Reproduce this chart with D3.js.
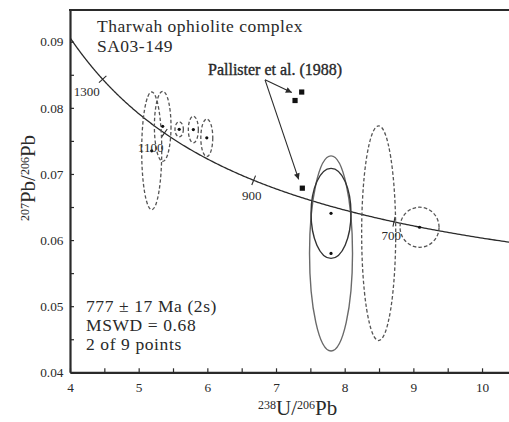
<!DOCTYPE html>
<html><head><meta charset="utf-8">
<script src="https://cdn.jsdelivr.net/npm/d3@7"></script>
<style>body{margin:0;background:#fff}svg{display:block}text{font-family:"Liberation Serif","Times New Roman",serif;fill:#2a2a2a}</style>
</head><body>
<svg id="c" width="509" height="422"></svg>
<script>
// ---------- data ----------
const xTicks=[4,5,6,7,8,9,10];
const xMinor=[4.5,5.5,6.5,7.5,8.5,9.5];
const yTicks=[0.04,0.05,0.06,0.07,0.08,0.09];
const yMinor=[0.045,0.055,0.065,0.075,0.085];
// excluded analyses (dashed ellipses): centre and half-axes
const excludedX=[5.19,5.35,5.59,5.796,5.992,8.495,9.09];
const excludedY=[0.0735,0.0772,0.07675,0.07672,0.07547,0.06104,0.06194];
const excludedEx=[0.146,0.121,0.061,0.073,0.087,0.248,0.284];
const excludedEy=[0.0089,0.0053,0.00114,0.00201,0.00283,0.01624,0.00303];
const excludedDot=[1,1,1,1,1,0,1];
// included analyses (solid ellipses)
const includedX=[7.801,7.801];
const includedY=[0.05798,0.06404];
const includedEx=[0.313,0.291];
const includedEy=[0.01476,0.00681];
// Pallister et al. (1988)
const pallisterX=[7.374,7.277,7.383];
const pallisterY=[0.08239,0.08111,0.06785];
const pallisterLabel="Pallister et al. (1988)";
const arrowFrom=[6.84,0.08424];
const arrowToX=[7.23,7.33];
const arrowToY=[0.08232,0.06918];
// concordia age marks (Ma)
const concordiaAges=[1300,1100,900,700];
const titleLines=["Tharwah ophiolite complex","SA03-149"];
const statLines=["777 ± 17 Ma (2s)","MSWD = 0.68","2 of 9 points"];

// ---------- drawing ----------
const svg=d3.select("#c");
const L=70,R=515,T=10,B=372.3;
const x=d3.scaleLinear().domain([4,10.48]).range([L,R]);
const y=d3.scaleLinear().domain([0.04,0.0948]).range([B,T]);
const ink="#2a2a2a";

svg.append("defs").append("clipPath").attr("id","clip")
  .append("rect").attr("x",L).attr("y",T).attr("width",R-L).attr("height",B-T);
const mk=svg.select("defs").append("marker").attr("id","ah")
  .attr("viewBox","0 0 10 10").attr("refX",10).attr("refY",5)
  .attr("markerWidth",8).attr("markerHeight",6).attr("markerUnits","userSpaceOnUse")
  .attr("orient","auto");
mk.append("path").attr("d","M0,0L10,5L0,10Z").attr("fill",ink);

// concordia (Tera-Wasserburg) from standard decay constants
const L238=1.55125e-10,L235=9.8485e-10,U85=137.88;
function tw(tMa){const t=tMa*1e6;const e8=Math.exp(L238*t)-1,e5=Math.exp(L235*t)-1;return [1/e8,e5/e8/U85];}
const ages=d3.range(540,1500,2);
const plot=svg.append("g").attr("clip-path","url(#clip)");
plot.append("path").datum(ages.map(tw))
  .attr("d",d3.line().x(d=>x(d[0])).y(d=>y(d[1])))
  .attr("fill","none").attr("stroke",ink).attr("stroke-width",1.3);

// age ticks on concordia
const lblOff={1300:[-3,17,"end"],1100:[-1,18.5,"end"],900:[-2,19.5,"middle"],700:[7,18,"end"]};
concordiaAges.forEach(a=>{
  const p=tw(a),p1=tw(a-5),p2=tw(a+5);
  const px=x(p[0]),py=y(p[1]);
  let dx=x(p2[0])-x(p1[0]),dy=y(p2[1])-y(p1[1]);const n=Math.hypot(dx,dy);dx/=n;dy/=n;
  plot.append("line").attr("x1",px-dy*5).attr("y1",py+dx*5).attr("x2",px+dy*5).attr("y2",py-dx*5)
    .attr("stroke",ink).attr("stroke-width",1.1);
  const o=lblOff[a];
  svg.append("text").attr("x",px+o[0]).attr("y",py+o[1]).attr("text-anchor",o[2])
    .attr("font-size",13).attr("fill","#444").text(a);
});

// ellipses
const ex=excludedX.map((v,i)=>({x:v,y:excludedY[i],ex:excludedEx[i],ey:excludedEy[i],dot:excludedDot[i]}));
const inc=includedX.map((v,i)=>({x:v,y:includedY[i],ex:includedEx[i],ey:includedEy[i],dot:1}));
plot.selectAll(".exe").data(ex).join("ellipse")
  .attr("cx",d=>x(d.x)).attr("cy",d=>y(d.y))
  .attr("rx",d=>x(d.x+d.ex)-x(d.x)).attr("ry",d=>y(d.y)-y(d.y+d.ey))
  .attr("fill","none").attr("stroke","#555").attr("stroke-width",1.3).attr("stroke-dasharray","3.5,2.2");
const incCol=["#6a6a6a","#333"];
plot.selectAll(".ine").data(inc).join("ellipse")
  .attr("cx",d=>x(d.x)).attr("cy",d=>y(d.y))
  .attr("rx",d=>x(d.x+d.ex)-x(d.x)).attr("ry",d=>y(d.y)-y(d.y+d.ey))
  .attr("fill","none").attr("stroke",(d,i)=>incCol[i]).attr("stroke-width",1.4);
plot.selectAll(".dot").data(ex.concat(inc).filter(d=>d.dot)).join("circle")
  .attr("cx",d=>x(d.x)).attr("cy",d=>y(d.y)).attr("r",1.6).attr("fill","#111");

// Pallister squares
plot.selectAll(".sq").data(pallisterX.map((v,i)=>[v,pallisterY[i]])).join("rect")
  .attr("x",d=>x(d[0])-2.6).attr("y",d=>y(d[1])-2.6).attr("width",5.2).attr("height",5.2).attr("fill","#111");
arrowToX.forEach((v,i)=>{
  svg.append("line").attr("x1",x(arrowFrom[0])).attr("y1",y(arrowFrom[1]))
    .attr("x2",x(v)).attr("y2",y(arrowToY[i])).attr("stroke",ink).attr("stroke-width",1.1)
    .attr("marker-end","url(#ah)");
});
svg.append("text").attr("x",208).attr("y",75).attr("font-size",16).attr("fill","#222")
  .attr("stroke","#222").attr("stroke-width",0.35).text(pallisterLabel);

// axes
svg.append("g").attr("transform",`translate(0,${B})`)
  .call(d3.axisBottom(x).tickValues(xTicks).tickSize(-4).tickSizeOuter(0).tickPadding(10).tickFormat(d3.format("d")));
svg.append("g").attr("transform",`translate(0,${B})`)
  .call(d3.axisBottom(x).tickValues(xMinor).tickSize(-4).tickSizeOuter(0).tickFormat(""))
  .select(".domain").remove();
svg.append("g").attr("transform",`translate(${L},0)`)
  .call(d3.axisLeft(y).tickValues(yTicks).tickSize(-4).tickSizeOuter(0).tickPadding(6.5).tickFormat(d3.format(".2f")));
svg.append("g").attr("transform",`translate(${L},0)`)
  .call(d3.axisLeft(y).tickValues(yMinor).tickSize(-4).tickSizeOuter(0).tickFormat(""))
  .select(".domain").remove();
svg.selectAll(".tick line").attr("stroke",ink).attr("stroke-width",1.2);
svg.selectAll(".domain").attr("stroke",ink).attr("stroke-width",2.2);
svg.selectAll(".tick text").attr("font-family","Liberation Serif").attr("font-size",13.3).attr("fill","#444");
svg.append("line").attr("x1",L-1).attr("x2",R).attr("y1",T).attr("y2",T).attr("stroke",ink).attr("stroke-width",2.2);

// titles (separate text lines, sized so their boxes do not overlap)
titleLines.forEach((s,i)=>svg.append("text").attr("x",97).attr("y",32.2+i*19.4)
  .attr("font-size",17.5).attr("letter-spacing",0.5).text(s));
statLines.forEach((s,i)=>svg.append("text").attr("x",86).attr("y",311.5+i*19.4)
  .attr("font-size",17.5).attr("letter-spacing",0.6).text(s));

// axis titles
const xt=svg.append("text").attr("x",258).attr("y",415);
[["238",1],["U/",0],["206",1],["Pb",0]].forEach((p,i)=>{
  xt.append("tspan").attr("font-size",p[1]?12:21).attr("dy",i===0?-6.5:(p[1]?-6.5:6.5)).text(p[0]);
});
const yt=svg.append("text").attr("transform","translate(35,178) rotate(-90)").attr("text-anchor","middle");
[["207",1],["Pb/",0],["206",1],["Pb",0]].forEach((p,i)=>{
  yt.append("tspan").attr("font-size",p[1]?12:21).attr("dy",i===0?-6.5:(p[1]?-6.5:6.5)).text(p[0]);
});
</script>
</body></html>
